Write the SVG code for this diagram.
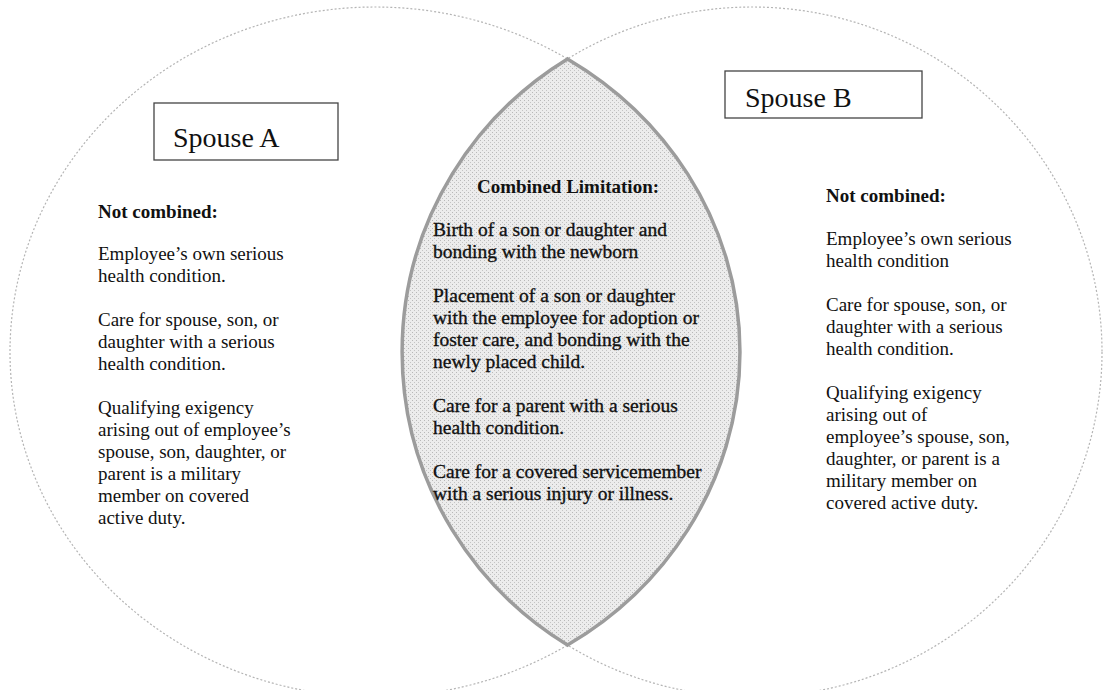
<svg xmlns="http://www.w3.org/2000/svg" width="1109" height="690" viewBox="0 0 1109 690">
<defs>
<pattern id="stip" width="4" height="4" patternUnits="userSpaceOnUse">
<rect width="4" height="4" fill="#ececec"/>
<rect x="0" y="0" width="1" height="1" fill="#b8b8b8"/>
<rect x="2" y="2" width="1" height="1" fill="#c4c4c4"/>
</pattern>
<style>
.circ{fill:none;stroke:#b4b4b4;stroke-width:1.2;stroke-dasharray:2 2}
.lens{fill:url(#stip);stroke:#9c9c9c;stroke-width:3.5}
.box{fill:#fff;stroke:#444;stroke-width:1.3}
.sp{font-family:"Liberation Serif","Times New Roman",serif;font-size:28px;fill:#111}
.h{font-family:"Liberation Serif","Times New Roman",serif;font-size:19px;font-weight:bold;fill:#111}
.t{font-family:"Liberation Serif","Times New Roman",serif;font-size:19px;fill:#111}
.c{font-family:"Liberation Serif","Times New Roman",serif;font-size:19.5px;fill:#111;stroke:#111;stroke-width:0.35}
</style>
</defs>
<rect width="1109" height="690" fill="#fff"/>
<g id="circles">
<ellipse class="circ" cx="375" cy="352" rx="365" ry="345"/>
<ellipse class="circ" cx="752" cy="352" rx="350" ry="345"/>
</g>
<g id="combined">
<path class="lens" d="M567.5 58.9 A350 345 0 0 0 567.5 645.1 A365 345 0 0 0 567.5 58.9 Z"/>
<text class="h" x="568" y="193" text-anchor="middle">Combined Limitation:</text>
<text class="c" x="433" y="236">Birth of a son or daughter and</text>
<text class="c" x="433" y="258">bonding with the newborn</text>
<text class="c" x="433" y="302">Placement of a son or daughter</text>
<text class="c" x="433" y="324">with the employee for adoption or</text>
<text class="c" x="433" y="346">foster care, and bonding with the</text>
<text class="c" x="433" y="368">newly placed child.</text>
<text class="c" x="433" y="412">Care for a parent with a serious</text>
<text class="c" x="433" y="434">health condition.</text>
<text class="c" x="433" y="478">Care for a covered servicemember</text>
<text class="c" x="433" y="500">with a serious injury or illness.</text>
</g>
<g id="spouseA">
<rect class="box" x="154" y="103" width="184" height="57"/>
<text class="sp" font-family="Liberation Serif, serif" x="173" y="147">Spouse A</text>
<text class="h" x="98" y="218">Not combined:</text>
<text class="t" x="98" y="260">Employee’s own serious</text>
<text class="t" x="98" y="282">health condition.</text>
<text class="t" x="98" y="326">Care for spouse, son, or</text>
<text class="t" x="98" y="348">daughter with a serious</text>
<text class="t" x="98" y="370">health condition.</text>
<text class="t" x="98" y="414">Qualifying exigency</text>
<text class="t" x="98" y="436">arising out of employee’s</text>
<text class="t" x="98" y="458">spouse, son, daughter, or</text>
<text class="t" x="98" y="480">parent is a military</text>
<text class="t" x="98" y="502">member on covered</text>
<text class="t" x="98" y="524">active duty.</text>
</g>
<g id="spouseB">
<rect class="box" x="725" y="71" width="197" height="47"/>
<text class="sp" font-family="Liberation Serif, serif" x="745" y="107">Spouse B</text>
<text class="h" x="826" y="202">Not combined:</text>
<text class="t" x="826" y="245">Employee’s own serious</text>
<text class="t" x="826" y="267">health condition</text>
<text class="t" x="826" y="311">Care for spouse, son, or</text>
<text class="t" x="826" y="333">daughter with a serious</text>
<text class="t" x="826" y="355">health condition.</text>
<text class="t" x="826" y="399">Qualifying exigency</text>
<text class="t" x="826" y="421">arising out of</text>
<text class="t" x="826" y="443">employee’s spouse, son,</text>
<text class="t" x="826" y="465">daughter, or parent is a</text>
<text class="t" x="826" y="487">military member on</text>
<text class="t" x="826" y="509">covered active duty.</text>
</g>
</svg>
